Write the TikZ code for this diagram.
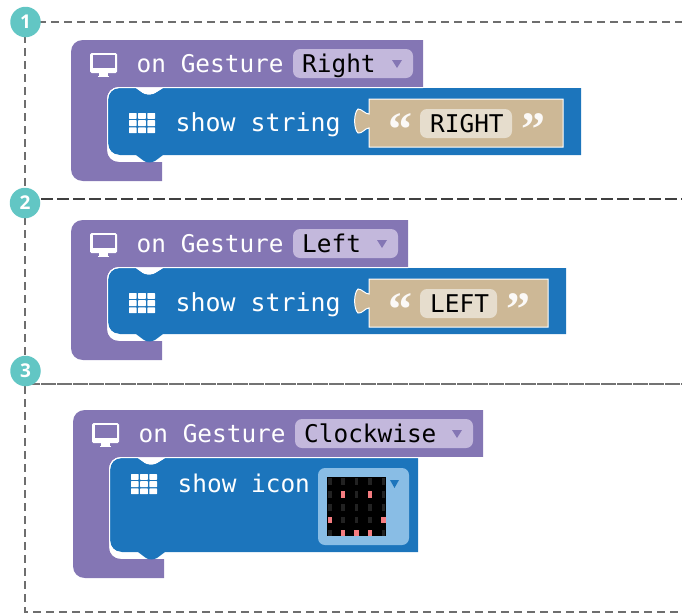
\documentclass[tikz,border=0pt]{standalone}
\usepackage{fontspec}
\setmainfont{Open Sans}
\setmonofont{DejaVu Sans Mono}
\newfontfamily\quotefont{Liberation Serif}
\definecolor{pblock}{HTML}{8476B4}
\definecolor{ppill}{HTML}{C3B8DC}
\definecolor{bblock}{HTML}{1C75BC}
\definecolor{bpill}{HTML}{89BDE5}
\definecolor{tanblock}{HTML}{CDB896}
\definecolor{tanpill}{HTML}{E6DDCD}
\definecolor{tealc}{HTML}{62C6C4}
\definecolor{dashc}{HTML}{6E6E6E}
\definecolor{ledoff}{HTML}{222222}
\definecolor{ledon}{HTML}{F47C80}
\tikzset{
  x=1pt,y=-1pt,
  monotext/.style={anchor=base west,inner sep=0pt,font=\ttfamily\fontsize{24.4}{28}\selectfont},
  wtext/.style={monotext,text=white},
  widetext/.style={wtext,font=\ttfamily\fontsize{24.9}{28}\selectfont},
  ktext/.style={monotext,text=black},
  badge/.style={circle,fill=tealc,minimum size=30.5pt,inner sep=0pt,text=white,font=\bfseries\fontsize{19}{22}\selectfont},
  dline/.style={dashc,line width=1.1pt,dash pattern=on 7.5pt off 5.5pt},
  dlinetwo/.style={black!75,line width=1.1pt,dash pattern=on 11.5pt off 4.5pt},
  dlinethree/.style={black!55,line width=1.4pt,dash pattern=on 15pt off 1pt},
  quotemark/.style={inner sep=0pt,anchor=base,text=white!92!tanblock,font=\quotefont\bfseries\fontsize{48}{48}\selectfont},
}
% #1 name, #2 x, #3 y, #4 purple width, #5 blue right, #6 blue height, #7 pill left, #8 pill right, #9 pill label
\newcommand{\gestureblock}[9]{%
\begin{scope}[shift={(#2,#3)}]
  \pgfmathsetmacro{\bb}{48+#6}
  \fill[pblock] (12,0) -- (#4,0) -- (#4,47) -- (48,47) .. controls (41,47) and (36,52) .. (36,59)
    -- (36,\bb-5) .. controls (36,\bb+2) and (41,\bb+7) .. (48,\bb+7)
    -- (91,\bb+7) -- (91,\bb+26) -- (12,\bb+26) .. controls (5,\bb+26) and (0,\bb+21) .. (0,\bb+14)
    -- (0,12) .. controls (0,5) and (5,0) .. (12,0) -- cycle;
  \fill[bblock] (49,48) -- (65,48) -- (72,53) .. controls (75,55) and (81,55) .. (84,53) -- (92,48) -- (#5,48)
    -- (#5,\bb) -- (92,\bb) -- (84,\bb+6) .. controls (80,\bb+8) and (76,\bb+8) .. (73,\bb+6) -- (65,\bb) -- (49,\bb)
    .. controls (42,\bb) and (37,\bb-5) .. (37,\bb-12) -- (37,60) .. controls (37,53) and (42,48) .. (49,48) -- cycle;
  \draw[white,line width=1pt] (48,\bb+.5) .. controls (41,\bb+.5) and (36.5,\bb-5) .. (36.5,\bb-12) -- (36.5,60)
    .. controls (36.5,53) and (41,47.5) .. (48,47.5) -- (65,47.5) -- (72,52.5) .. controls (75,54.5) and (81,54.5) .. (84,52.5) -- (92,47.5) -- (#4,47.5);
  % monitor icon
  \fill[white,rounded corners=1.5pt] (19,13) rectangle (46,33);
  \fill[pblock] (21.5,15) rectangle (44,28);
  \fill[white] (28,33) rectangle (37,35.5);
  \fill[white] (27,35.5) rectangle (38,37);
  \node[wtext] (#1on) at (65.5,32) {on Gesture};
  \fill[ppill,rounded corners=7pt] (#7,9) rectangle (#8,38);
  \node[ktext] (#1pill) at (\numexpr#7+9\relax,32) {#9};
  \fill[pblock] (\numexpr#8-21\relax,20) -- (\numexpr#8-11\relax,20) -- (\numexpr#8-16\relax,28) -- cycle;
\end{scope}}
\newcommand{\gridicon}[2]{%
\begin{scope}[shift={(#1,#2)}]
  \foreach \i in {0,1,2}{\foreach \j in {0,1,2}{
    \fill[white,rounded corners=0.5pt] (\i*9.2,\j*7.2) rectangle ++(7.6,5.8);}}
\end{scope}}
% tan string value
\newcommand{\stringvalue}[6]{% name, x offset, y, right edge, pill right, label
\begin{scope}[shift={(#2,#3)}]
  \fill[tanblock,draw=white,line width=1pt] (0,15) .. controls (-4,15) and (-7,10) .. (-11,10)
    .. controls (-15.5,14) and (-15.5,30) .. (-11,34) .. controls (-7,35) and (-4,29) .. (0,29)
    -- (0,48) -- (#4,48) -- (#4,0) -- (0,0) -- cycle;
  \fill[tanpill,rounded corners=7pt] (51,10) rectangle (#5,39);
  \node[ktext] (#1txt) at (61,33) {#6};
  \node[quotemark] (#1ql) at (31,46) {“};
  \node[quotemark] (#1qr) at (\numexpr#5+21\relax,46) {”};
\end{scope}}
\begin{document}
\begin{tikzpicture}
\useasboundingbox (0,0) rectangle (682,613);
% dashed frame
\draw[dline] (25,22) -- (682,22);
\draw[dline] (25,22) -- (25,612) -- (682,612);
\draw[dlinetwo] (25,199) -- (682,199);
\draw[dlinethree] (25,384) -- (682,384);
% block 1
\gestureblock{a}{71}{40}{352}{510}{67}{222}{342}{Right}
\gridicon{129}{113}
\node[widetext] (ashow) at (175.5,131) {show string};
\stringvalue{a}{369}{99}{194}{143}{RIGHT}
% block 2
\gestureblock{b}{71}{220}{337}{495}{66}{222}{327}{Left}
\gridicon{129}{293}
\node[widetext] (bshow) at (175.5,311) {show string};
\stringvalue{b}{369}{279}{179}{128}{LEFT}
% block 3
\gestureblock{c}{73}{410}{410}{345}{94}{222}{400}{Clockwise}
\gridicon{131}{474}
\node[wtext] (cshow) at (177.5,492) {show icon};
\fill[bpill,rounded corners=7pt] (318,468) rectangle (409,545);
\fill[black] (327,477) rectangle (386,536);
\foreach \c/\xx in {0/329.7,1/343.1,2/356.5,3/369.9,4/383.3}{
  \foreach \r/\yy in {0/481.5,1/494.5,2/507.5,3/520,4/533}{
    \fill[ledoff] (\xx-1.8,\yy-3.2) rectangle (\xx+1.8,\yy+3);
  }}
\foreach \xx/\yy in {343.1/494.5,369.9/494.5,329.7/520,383.3/520,343.1/533,356.5/533,369.9/533}{
  \fill[ledon] (\xx-2.2,\yy-3.4) rectangle (\xx+2.2,\yy+3.4);
}
\fill[bblock] (390,480) -- (399,480) -- (394.5,488) -- cycle;
% badges
\node[badge] (n1) at (25.5,22) {1};
\node[badge] (n2) at (25,203) {2};
\node[badge] (n3) at (25.5,371) {3};
\end{tikzpicture}
\end{document}
